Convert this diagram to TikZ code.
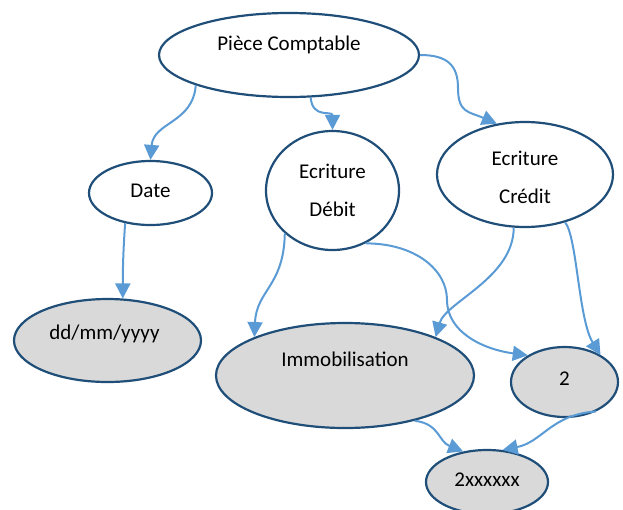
\documentclass[tikz,border=0pt]{standalone}
\usepackage{fontspec}
\setmainfont{Carlito}
\usetikzlibrary{shapes.geometric,arrows.meta}
\definecolor{bord}{RGB}{31,78,121}
\definecolor{conn}{RGB}{91,155,213}
\definecolor{fillg}{RGB}{217,217,217}
\begin{document}
\begin{tikzpicture}[x=1pt,y=1pt,
  font=\fontsize{21}{25}\selectfont,
  ell/.style={ellipse,draw=bord,line width=2.2pt,inner sep=0pt,fill=white},
  gell/.style={ell,fill=fillg},
  two/.style={align=center,font=\fontsize{21}{38}\selectfont},
  link/.style={draw=conn,line width=2pt,-{Triangle[length=15pt,width=15pt]}}]
\useasboundingbox (0,0) rectangle (623,-509);
% nodes
\node[ell,minimum width=260pt,minimum height=84pt,label={[yshift=10pt]center:Pièce Comptable}] (pc) at (289,-55) {};
\node[ell,minimum width=123pt,minimum height=64pt,label={[yshift=2pt]center:Date}] (date) at (150.5,-193) {};
\node[gell,minimum width=187pt,minimum height=83pt,label={[yshift=7pt,xshift=-3pt]center:dd/mm/yyyy}] (dd) at (107.5,-340.5) {};
\node[ell,minimum width=133pt,minimum height=119pt,label={[two]center:Ecriture\\Débit}] (debit) at (332.5,-190.5) {};
\node[ell,minimum width=176pt,minimum height=105pt,label={[two,yshift=-3pt]center:Ecriture\\Crédit}] (credit) at (525,-174.5) {};
\node[gell,minimum width=258pt,minimum height=105pt,label={[yshift=16pt]center:Immobilisation}] (immo) at (345,-375.5) {};
\node[gell,minimum width=107pt,minimum height=70pt,label={[yshift=3pt]center:2}] (deux) at (564.5,-382) {};
\node[gell,minimum width=122pt,minimum height=64pt,label={[yshift=2pt]center:2xxxxxx}] (xx) at (487,-482) {};
% connectors
\coordinate (m3) at (458,-88);
\coordinate (m6) at (447,-300);
\draw[link] (pc.198) .. controls +(-3,-38) and +(3,38) .. (date.north);
\draw[link] (pc.297) .. controls +(2,-22) and +(0,20) .. (debit.north);
\draw[link] (pc.east) .. controls +(28,0) and +(0,22) .. (m3) .. controls +(0,-25) and +(-28,12) .. (credit.119);
\draw[link] (date.230) .. controls +(-2,-30) and +(0,30) .. (dd.70);
\draw[link] (debit.222) .. controls +(-1,-53) and +(2,47) .. (immo.157);
\draw[link] (debit.302) .. controls +(50,0) and +(0,30) .. (m6) .. controls +(0,-32) and +(-45,6) .. (deux.144);
\draw[link] (credit.258) .. controls +(0,-50) and +(10,35) .. (immo.23);
\draw[link] (credit.310) .. controls +(12,-15) and +(-22,35) .. (deux.37);
\draw[link] (immo.327) .. controls +(25,-3) and +(-25,10) .. (xx.128);
\draw[link] (deux.317) .. controls +(-45,-3) and +(40,8) .. (xx.64);
\end{tikzpicture}
\end{document}
